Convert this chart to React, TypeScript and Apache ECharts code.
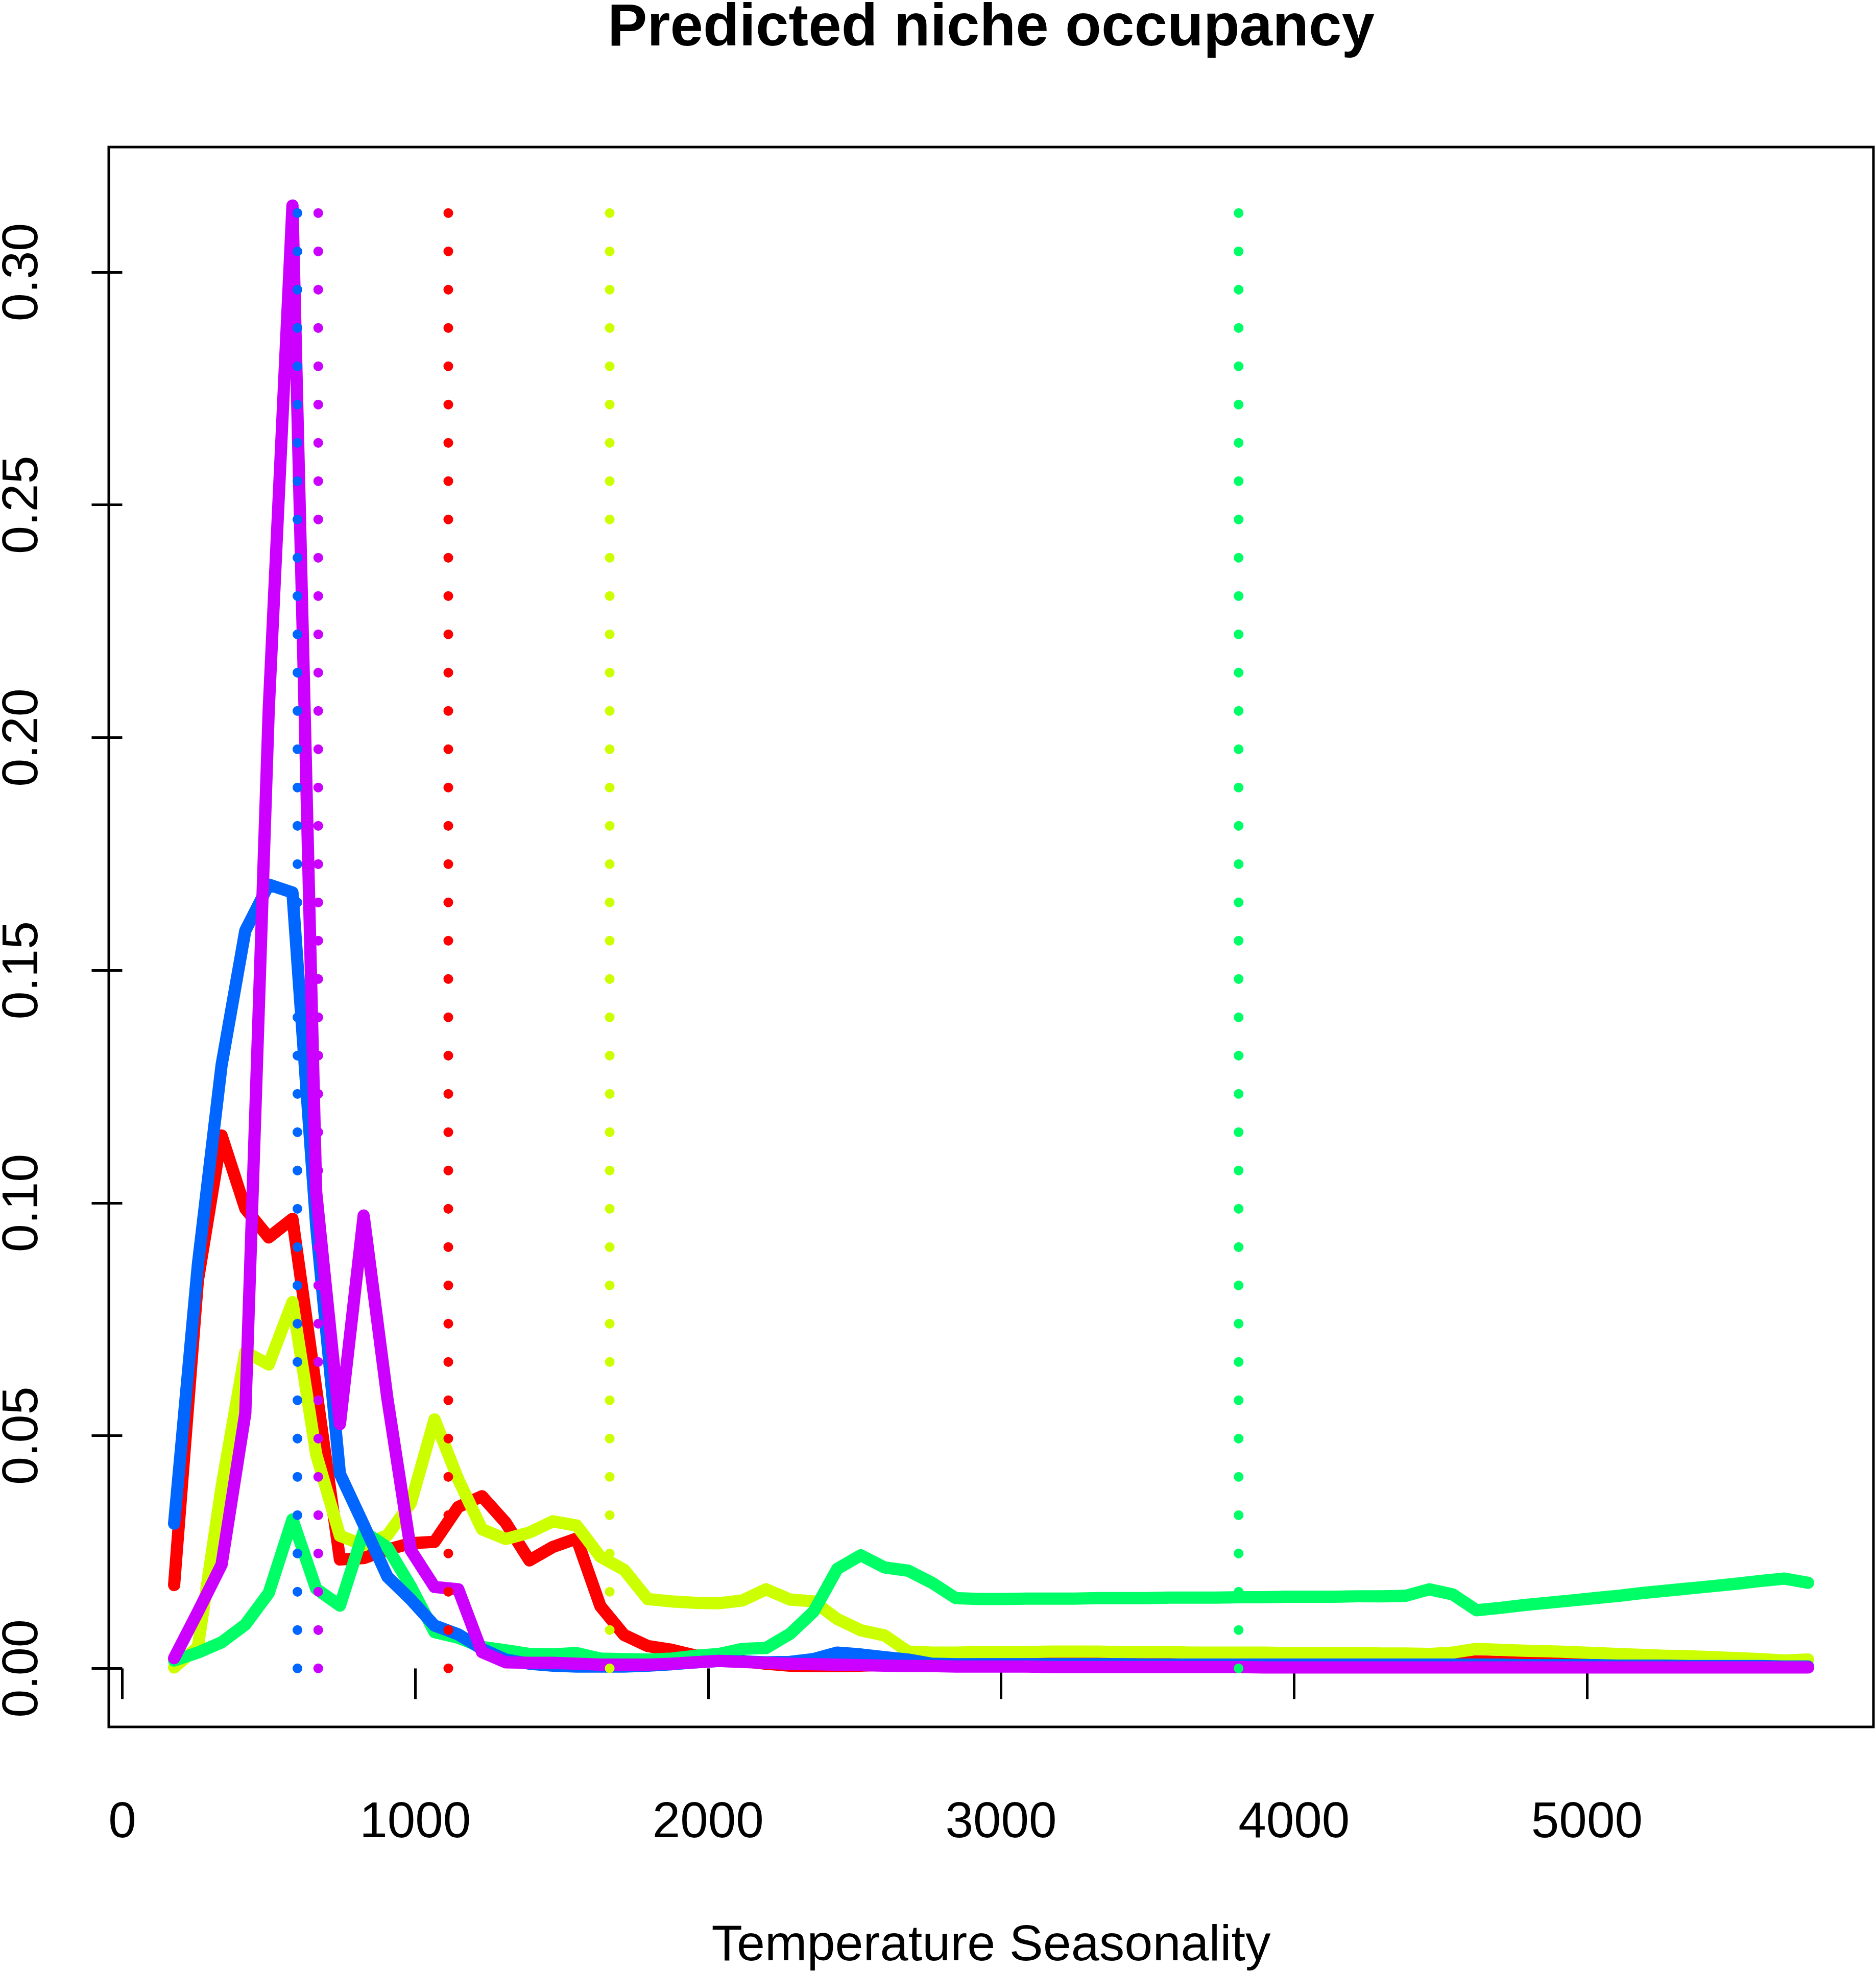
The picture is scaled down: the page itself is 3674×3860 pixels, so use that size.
import React, { useEffect, useRef } from "react";
import * as echarts from "echarts";

// Temperature Seasonality grid (x values shared by all five series)
const tempGrid = [
  177, 258, 339, 420, 500, 581, 662, 743, 824, 905,
  985, 1066, 1147, 1228, 1309, 1390, 1470, 1551, 1632, 1713,
  1794, 1875, 1955, 2036, 2117, 2198, 2279, 2360, 2441, 2521,
  2602, 2683, 2764, 2845, 2926, 3006, 3087, 3168, 3249, 3330,
  3411, 3491, 3572, 3653, 3734, 3815, 3896, 3976, 4057, 4138,
  4219, 4300, 4381, 4462, 4542, 4623, 4704, 4785, 4866, 4947,
  5027, 5108, 5189, 5270, 5351, 5432, 5512, 5593, 5674, 5755,
];

const redOcc = [
  0.0179, 0.0833, 0.1145, 0.0988, 0.0926, 0.0966, 0.0600, 0.0234, 0.0237, 0.0255,
  0.0269, 0.0272, 0.0347, 0.0370, 0.0313, 0.0232, 0.0261, 0.0279, 0.0134, 0.0072,
  0.0048, 0.0040, 0.0028, 0.0023, 0.0016, 0.0010, 0.0006, 0.0005, 0.0005, 0.0006,
  0.0008, 0.0010, 0.0011, 0.0011, 0.0011, 0.0011, 0.0011, 0.0011, 0.0011, 0.0011,
  0.0011, 0.0011, 0.0010, 0.0010, 0.0010, 0.0010, 0.0010, 0.0010, 0.0010, 0.0010,
  0.0010, 0.0010, 0.0010, 0.0010, 0.0011, 0.0015, 0.0014, 0.0013, 0.0012, 0.0011,
  0.0010, 0.0009, 0.0008, 0.0007, 0.0006, 0.0005, 0.0005, 0.0004, 0.0003, 0.0003,
];

const yellowOcc = [
  0.0002, 0.0046, 0.0390, 0.0680, 0.0653, 0.0787, 0.0460, 0.0285, 0.0265, 0.0286,
  0.0355, 0.0535, 0.0406, 0.0299, 0.0278, 0.0292, 0.0316, 0.0307, 0.0240, 0.0212,
  0.0149, 0.0144, 0.0141, 0.0140, 0.0146, 0.0170, 0.0148, 0.0144, 0.0106, 0.0082,
  0.0071, 0.0036, 0.0034, 0.0034, 0.0035, 0.0035, 0.0035, 0.0036, 0.0036, 0.0036,
  0.0035, 0.0035, 0.0035, 0.0034, 0.0034, 0.0034, 0.0034, 0.0033, 0.0033, 0.0033,
  0.0033, 0.0032, 0.0032, 0.0031, 0.0034, 0.0042, 0.0040, 0.0038, 0.0037, 0.0035,
  0.0033, 0.0031, 0.0029, 0.0027, 0.0026, 0.0024, 0.0022, 0.0020, 0.0017, 0.0019,
];

const greenOcc = [
  0.0017, 0.0034, 0.0056, 0.0094, 0.0162, 0.0320, 0.0171, 0.0135, 0.0294, 0.0260,
  0.0176, 0.0078, 0.0066, 0.0046, 0.0039, 0.0031, 0.0030, 0.0033, 0.0021, 0.0020,
  0.0019, 0.0021, 0.0027, 0.0031, 0.0042, 0.0044, 0.0074, 0.0122, 0.0214, 0.0243,
  0.0217, 0.0210, 0.0184, 0.0151, 0.0149, 0.0149, 0.0150, 0.0150, 0.0150, 0.0151,
  0.0151, 0.0151, 0.0152, 0.0152, 0.0152, 0.0153, 0.0153, 0.0154, 0.0154, 0.0154,
  0.0155, 0.0155, 0.0156, 0.0170, 0.0159, 0.0125, 0.0130, 0.0136, 0.0141, 0.0146,
  0.0151, 0.0156, 0.0162, 0.0167, 0.0172, 0.0177, 0.0182, 0.0188, 0.0193, 0.0184,
];

const blueOcc = [
  0.0311, 0.0867, 0.1296, 0.1585, 0.1684, 0.1667, 0.0950, 0.0418, 0.0309, 0.0197,
  0.0148, 0.0092, 0.0073, 0.0042, 0.0019, 0.0010, 0.0006, 0.0004, 0.0004, 0.0004,
  0.0006, 0.0009, 0.0013, 0.0016, 0.0015, 0.0013, 0.0014, 0.0020, 0.0034, 0.0030,
  0.0024, 0.0019, 0.0010, 0.0009, 0.0009, 0.0009, 0.0009, 0.0009, 0.0009, 0.0009,
  0.0009, 0.0008, 0.0008, 0.0008, 0.0008, 0.0008, 0.0008, 0.0008, 0.0008, 0.0008,
  0.0008, 0.0008, 0.0008, 0.0008, 0.0008, 0.0008, 0.0008, 0.0007, 0.0007, 0.0007,
  0.0007, 0.0006, 0.0006, 0.0006, 0.0005, 0.0005, 0.0005, 0.0005, 0.0004, 0.0004,
];

const purpleOcc = [
  0.0022, 0.0121, 0.0223, 0.0548, 0.2060, 0.3143, 0.1023, 0.0525, 0.0973, 0.0580,
  0.0254, 0.0175, 0.0170, 0.0035, 0.0013, 0.0012, 0.0012, 0.0010, 0.0008, 0.0008,
  0.0008, 0.0010, 0.0013, 0.0016, 0.0014, 0.0012, 0.0010, 0.0009, 0.0008, 0.0007,
  0.0006, 0.0005, 0.0005, 0.0004, 0.0004, 0.0004, 0.0004, 0.0003, 0.0003, 0.0003,
  0.0003, 0.0003, 0.0003, 0.0003, 0.0003, 0.0003, 0.0002, 0.0002, 0.0002, 0.0002,
  0.0002, 0.0002, 0.0002, 0.0002, 0.0002, 0.0002, 0.0002, 0.0002, 0.0002, 0.0002,
  0.0002, 0.0002, 0.0002, 0.0002, 0.0002, 0.0002, 0.0002, 0.0002, 0.0002, 0.0002,
];

// weighted mean temperature seasonality for each species (dotted lines)
const meanTemp = [1113, 1664, 3811, 598, 669];

const speciesColors = ["#FF0000", "#CCFF00", "#00FF66", "#0066FF", "#CC00FF"];
const xTicks = [0, 1000, 2000, 3000, 4000, 5000];
const yTicks = [0, 0.05, 0.1, 0.15, 0.2, 0.25, 0.3];

const titleText = "Predicted niche occupancy";
const xLabel = "Temperature Seasonality";

const FONT = '"Liberation Sans", Arial, Helvetica, sans-serif';

export default function App() {
  const ref = useRef<HTMLDivElement>(null);

  useEffect(() => {
    if (!ref.current) return;
    const chart = echarts.init(ref.current, null, { renderer: "svg" });

    const allSeries = [redOcc, yellowOcc, greenOcc, blueOcc, purpleOcc];
    const all = allSeries.flat();
    const yMaxData = Math.max(...all);
    const yMinData = Math.min(0, ...all);
    const yPad = (yMaxData - yMinData) * 0.04;
    const xMinData = Math.min(...tempGrid);
    const xMaxData = Math.max(...tempGrid);
    const xPad = (xMaxData - xMinData) * 0.04;

    const curveSeries = allSeries.map((vals, i) => ({
      type: "line",
      data: tempGrid.map((x, j) => [x, vals[j]]),
      symbol: "none",
      showSymbol: false,
      silent: true,
      lineStyle: {
        color: speciesColors[i],
        width: 24,
        cap: "round",
        join: "round",
      },
    }));

    const dottedSeries = meanTemp.map((m, i) => ({
      type: "line",
      data: [
        [m, 0],
        [m, yMaxData],
      ],
      symbol: "none",
      showSymbol: false,
      silent: true,
      lineStyle: {
        color: speciesColors[i],
        width: 19,
        type: [0.1, 74.9],
        cap: "round",
      },
    }));

    const option: any = {
      animation: false,
      backgroundColor: "#ffffff",
      grid: {
        left: 213,
        right: 5,
        top: 288,
        bottom: 478,
        show: true,
        borderColor: "#000000",
        borderWidth: 5,
        backgroundColor: "transparent",
        containLabel: false,
        outerBoundsMode: "none",
      },
      graphic: [
        {
          type: "text",
          x: 1941,
          y: 49,
          style: {
            text: titleText,
            fill: "#000000",
            fontSize: 116,
            fontWeight: "bold",
            fontFamily: FONT,
            lineHeight: 90,
            align: "center",
            verticalAlign: "middle",
            textAlign: "center",
            textVerticalAlign: "middle",
          },
        },
      ],
      xAxis: {
        type: "value",
        min: xMinData - xPad,
        max: xMaxData + xPad,
        name: xLabel,
        nameLocation: "middle",
        nameGap: 373,
        nameTextStyle: { fontSize: 99, color: "#000000", fontFamily: FONT },
        axisLine: { show: false },
        splitLine: { show: false },
        axisTick: {
          show: true,
          inside: false,
          length: 60,
          customValues: xTicks,
          lineStyle: { color: "#000000", width: 5 },
        },
        axisLabel: {
          show: true,
          customValues: xTicks,
          margin: 133,
          fontSize: 98,
          color: "#000000",
          fontFamily: FONT,
          formatter: (v: number) => String(v),
        },
      },
      yAxis: {
        type: "value",
        min: yMinData - yPad,
        max: yMaxData + yPad,
        axisLine: { show: false },
        splitLine: { show: false },
        axisTick: {
          show: true,
          inside: false,
          length: 60,
          customValues: yTicks,
          lineStyle: { color: "#000000", width: 5 },
        },
        axisLabel: {
          show: true,
          customValues: yTicks,
          rotate: 90,
          margin: 139,
          fontSize: 99,
          lineHeight: 72,
          color: "#000000",
          fontFamily: FONT,
          formatter: (v: number) => v.toFixed(2),
        },
      },
      series: [...curveSeries, ...dottedSeries],
    };

    chart.setOption(option);
    return () => {
      chart.dispose();
    };
  }, []);

  return (
    <div
      ref={ref}
      style={{
        position: "absolute",
        left: 0,
        top: 0,
        width: 3674,
        height: 3860,
        background: "#ffffff",
      }}
    />
  );
}
